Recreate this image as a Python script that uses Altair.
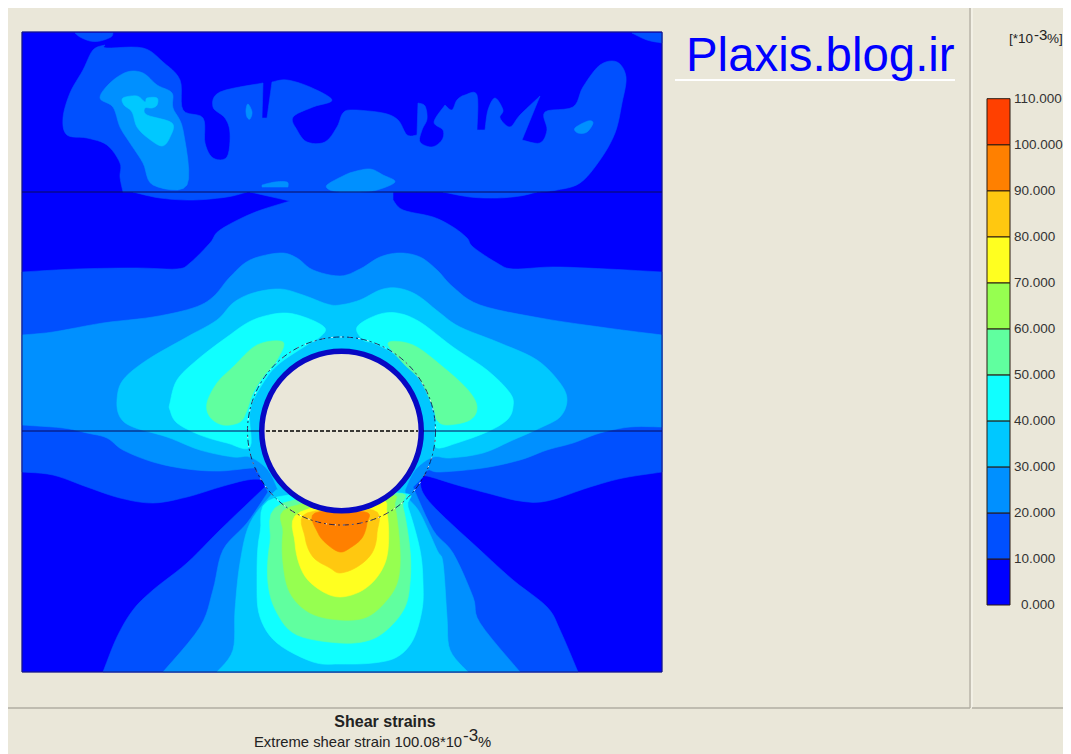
import altair as alt
import pandas as pd

W, H = 1055, 746
BG = "#EAE7D9"

# contour regions, drawn in this order: (band, outline points in picture units)
PLOT_AREA = [(22,32),(662,32),(662,672),(22,672)]
TOP_LEFT_CAP = [(75,33),(113,33),(111,37),(100,41),(90,41),(80,37)]
TOP_RIGHT_CAP = [(632,33),(662,33),(662,43),(647,40)]
UPPER_10 = [(123,192),(120,177),(120,163),(107,145),(87,138),(67,135),(63,118),(70,93),(83,70),(93,50),
    (105,45),(107,48),(143,48),(163,62),(180,80),(183,110),(203,118),(205,143),(213,158),(227,157),(230,133),(225,118),
    (213,107),(220,92),(263,83),(262,118),(267,118),(272,82),(287,80),(310,87),(332,100),(313,107),
    (293,117),(297,130),(307,142),(325,142),(337,127),(343,113),(353,110),(383,113),(398,120),(407,135),
    (417,135),(418,103),(425,106),(427,119),(422,130),(420,142),(432,147),(442,140),(443,130),(434,122),
    (445,105),(452,110),(457,100),(465,95),(477,95),(477,130),(485,130),(488,110),(495,98),(503,110),
    (500,118),(510,127),(520,115),(540,96),(522,140),(540,143),(547,130),(545,112),(573,107),(583,87),
    (600,65),(617,62),(626,77),(622,103),(615,133),(600,160),(580,183),(557,190),(540,192)]
SLIVER_LEFT = [(133,192),(160,198),(193,200),(227,197),(247,192)]
SLIVER_RIGHT = [(443,192),(470,197),(497,198),(520,196),(537,192)]
LOWER_10 = [(22,272),(77,269),(137,268),(177,269),(190,263),(210,243),(220,230),(253,213),(290,201),(250,192),
    (393,192),(393,200),(403,210),(433,217),(453,227),(467,238),(473,247),(497,263),(513,269),(553,267),(607,269),
    (662,272),(662,472),(623,478),(590,487),(547,501),(520,501),(487,493),(457,485),(427,476),(420,478),
    (423,493),(440,513),(480,550),(513,580),(547,607),(560,630),(578,672),(103,672),(117,637),(133,610),
    (153,590),(187,563),(220,530),(265,487),(262,480),(247,480),(220,487),(187,497),(153,503),(120,498),
    (87,487),(53,475),(22,472)]
BLOB_20 = [(100,98),(110,83),(127,72),(143,73),(157,85),(172,93),(173,108),(183,130),(187,185),(153,185),
    (143,163),(130,143),(120,127),(113,107)]
SPOT_A_20 = [(246,110),(248,104),(252,112),(250,119),(247,117)]
SPOT_B_20 = [(262,185),(275,182),(287,182),(288,187),(262,187)]
SPOT_C_20 = [(327,185),(343,176),(353,172),(370,169),(383,175),(395,182),(377,190),(360,192),(340,192),(330,190)]
SPOT_D_20 = [(575,128),(588,121),(593,123),(587,132),(578,133)]
BLOB_30 = [(123,98),(137,96),(145,102),(147,98),(157,98),(157,105),(152,108),(145,108),(147,115),(172,123),
    (170,137),(162,146),(148,138),(137,127),(132,112),(124,105)]
BAND_20 = [(22,335),(53,332),(103,323),(153,317),(193,308),(213,297),(230,277),(250,260),(280,253),(297,258),
    (313,270),(340,276),(360,269),(380,257),(400,253),(420,257),(437,270),(453,287),(480,305),(540,318),
    (607,328),(662,335),(662,427),(630,427),(600,433),(573,443),(547,450),(520,460),(483,468),(440,472),
    (428,470),(422,478),(413,487),(433,530),(453,553),(473,597),(480,623),(520,672),(163,672),(200,627),
    (213,590),(223,550),(247,523),(268,492),(258,472),(253,468),(220,471),(187,469),(153,462),(123,450),
    (107,438),(87,433),(63,428),(22,425)]
BAND_30 = [(117,400),(123,380),(147,360),(187,337),(217,320),(233,303),(253,293),(280,289),(303,295),(327,304),
    (340,305),(360,300),(380,290),(397,288),(417,295),(440,313),(460,327),(500,343),(537,360),(560,383),
    (567,400),(560,417),(540,428),(513,440),(483,453),(450,458),(433,457),(415,470),(405,490),(407,497),
    (420,513),(437,550),(443,563),(447,617),(450,650),(468,672),(217,672),(233,650),(235,610),(240,563),
    (250,523),(273,493),(278,490),(268,470),(250,457),(233,457),(200,450),(167,437),(133,427),(120,417)]
LOBE_L_40 = [(170,403),(177,380),(197,360),(227,337),(253,320),(283,313),(307,318),(325,328),(320,337),(307,345),
    (280,363),(265,380),(250,410),(250,447),(227,443),(200,435),(177,423),(170,410)]
LOBE_R_40 = [(357,327),(377,315),(397,313),(420,322),(453,347),(487,370),(510,393),(513,407),(507,420),(487,432),
    (457,443),(437,448),(435,437),(435,410),(427,387),(413,370),(393,353),(373,343),(363,340)]
PLUME_40 = [(277,497),(260,533),(257,583),(260,617),(277,643),(313,662),(340,664),(373,663),(397,657),(413,640),
    (422,610),(423,583),(420,550),(408,507),(400,493)]
LOBE_L_50 = [(207,403),(217,383),(233,367),(257,345),(283,342),(277,360),(263,377),(253,393),(247,410),(240,422),
    (223,425),(210,417)]
LOBE_R_50 = [(388,343),(413,345),(443,367),(468,390),(477,407),(470,420),(447,425),(437,420),(433,407),(420,380),(403,363)]
PLUME_50 = [(283,503),(270,543),(268,583),(277,613),(297,635),(340,643),(370,640),(390,627),(405,607),(410,583),
    (410,550),(403,507),(395,493)]
PLUME_60 = [(290,507),(283,533),(283,563),(290,593),(310,613),(340,620),(367,617),(387,600),(398,580),(400,550),
    (395,507),(387,495)]
PLUME_70 = [(300,512),(295,543),(303,573),(320,590),(340,597),(363,590),(380,573),(388,550),(387,513),(377,500)]
PLUME_80 = [(307,513),(305,537),(313,557),(330,568),(340,573),(357,567),(372,553),(377,533),(373,510)]
PLUME_90 = [(315,513),(318,533),(328,545),(340,552),(350,548),(362,538),(367,523),(365,512)]

# outline points that stay corners rather than being rounded
SHARP = {(418,103),(445,105),(540,96),(522,140),(272,82),(263,83),(262,118),(267,118),(290,201),(250,192),
    (393,192),(393,200),(123,192),(540,192),(420,478),(265,487),(105,45),(417,135),(477,130),(485,130),
    (413,487),(268,492),(405,490),(278,490),(133,192),(247,192),(443,192),(537,192),(340,192),(360,192),(262,187),(288,187),(262,185)}

REGIONS = [("0",PLOT_AREA),("10",TOP_LEFT_CAP),("10",TOP_RIGHT_CAP),("10",UPPER_10),("10",SLIVER_LEFT),
    ("10",SLIVER_RIGHT),("10",LOWER_10),("20",BLOB_20),("20",SPOT_A_20),("20",SPOT_B_20),("20",SPOT_C_20),
    ("20",SPOT_D_20),("30",BLOB_30),("20",BAND_20),("30",BAND_30),("40",LOBE_L_40),("40",LOBE_R_40),
    ("40",PLUME_40),("50",LOBE_L_50),("50",LOBE_R_50),("50",PLUME_50),("60",PLUME_60),("70",PLUME_70),
    ("80",PLUME_80),("90",PLUME_90)]

BAND_LOW = [0,10,20,30,40,50,60,70,80,90,100]
BAND_COLOURS = ["#0000FF","#0050FF","#0090FF","#00C8FF","#10FFFF","#60FF9F","#96FF50","#FFFF20","#FFC810","#FF8000","#FF4000"]
LEGEND_TICKS = [110,100,90,80,70,60,50,40,30,20,10]

def is_sharp(p):
    return p[0] in (22, 662) or p[1] in (32, 33, 672) or p in SHARP

def spline_run(run, closed=False):
    """Rounded path through traced points (Catmull-Rom), ending on run's last point."""
    n = len(run)
    out = []
    segs = n if closed else n - 1
    for i in range(segs):
        if closed:
            p0, p1, p2, p3 = run[i-1], run[i], run[(i+1) % n], run[(i+2) % n]
        else:
            p0, p1, p2, p3 = run[max(i-1, 0)], run[i], run[i+1], run[min(i+2, n-1)]
        for s in range(6):
            t = s / 6
            out.append(tuple(
                0.5 * (2*p1[c] + (p2[c]-p0[c])*t + (2*p0[c]-5*p1[c]+4*p2[c]-p3[c])*t*t
                       + (3*p1[c]-p0[c]-3*p2[c]+p3[c])*t*t*t) for c in (0, 1)))
    return out

def outline(pts):
    idx = [k for k, p in enumerate(pts) if is_sharp(p)]
    if not idx:
        return spline_run(pts, closed=True)
    rot = pts[idx[0]:] + pts[:idx[0]] + [pts[idx[0]]]
    out, run = [], [rot[0]]
    for p in rot[1:]:
        run.append(p)
        if is_sharp(p):
            out += spline_run(run)
            run = [p]
    return out

rows = []
for i, (band, pts) in enumerate(REGIONS):
    for j, (x, y) in enumerate(outline(pts)):
        rows.append(dict(region=f"r{i:02d}", seq=j, x=min(max(x, 22), 662), y=min(max(y, 32), 672), band=band))
contours = pd.DataFrame(rows)

X = alt.Scale(domain=[8, 8 + W], range=[0, W])
Y = alt.Scale(domain=[8, 8 + H], range=[0, H])
def xq(f="x"): return alt.X(f"{f}:Q", scale=X, axis=None)
def yq(f="y"): return alt.Y(f"{f}:Q", scale=Y, axis=None)

col = alt.Scale(domain=[str(b) for b in BAND_LOW], range=BAND_COLOURS)
contour_layer = alt.Chart(contours).mark_line(interpolate="linear-closed", strokeWidth=0.6).encode(
    x=xq(), y=yq(), order=alt.Order("seq:Q"), detail="region:N",
    fill=alt.Fill("band:N", scale=col, legend=None),
    stroke=alt.Stroke("band:N", scale=col, legend=None))

def rule(df, color, width=1, dash=None, opacity=1):
    kw = dict(color=color, strokeWidth=width, opacity=opacity)
    if dash: kw["strokeDash"] = dash
    m = alt.Chart(pd.DataFrame(df)).mark_rule(**kw)
    return m.encode(x=xq("x"), x2="x2:Q", y=yq("y"), y2="y2:Q")

frame = alt.Chart(pd.DataFrame([dict(x=22,x2=662,y=32,y2=672)])).mark_rect(
    fill=None, stroke="#1A1A6E", strokeWidth=1).encode(x=xq("x"), x2="x2:Q", y=yq("y"), y2="y2:Q")

CENTER_X, CENTER_Y = 341.5, 431
tunnel = pd.DataFrame([dict(x=CENTER_X, y=CENTER_Y)])
def circle(size, **kw):
    return alt.Chart(tunnel).mark_point(shape="circle", size=size, **kw).encode(x=xq(), y=yq())

RING_DIAMETER, OUTER_DIAMETER = 159.5, 188
ring = circle(RING_DIAMETER**2, fill=BG, fillOpacity=1, stroke="#0808C4", strokeWidth=5.5, opacity=1)
outer_light = circle(OUTER_DIAMETER**2, stroke="#F4F4F0", strokeWidth=1, strokeDash=[2,7], fill=None, opacity=1)
outer_dark = circle(OUTER_DIAMETER**2, stroke="#10104A", strokeWidth=1, strokeDash=[6,3,2,3], fill=None, opacity=0.85)

lines = [
    rule([dict(x=22,x2=662,y=192,y2=192)], "#0A0A5A", 1),
    rule([dict(x=22,x2=260,y=431,y2=431),dict(x=423,x2=662,y=431,y2=431)], "#0A0A5A", 1),
    rule([dict(x=266,x2=418,y=431,y2=431)], "#000000", 1.6, [4,2]),
]
separators = [
    rule([dict(x=970,x2=970,y=8,y2=708)], "#B8B5A8", 1.5),
    rule([dict(x=972,x2=972,y=8,y2=708)], "#FAF9F2", 1),
    rule([dict(x=8,x2=970,y=708,y2=708),dict(x=972,x2=1063,y=708,y2=708)], "#B0AEA2", 1.5),
    rule([dict(x=675,x2=955,y=80,y2=80)], "#FFFFFF", 2),
]

# legend with its own value scale
LEG = alt.Scale(domain=[0, 110], range=[605 - 8, 98.7 - 8])
legend_df = pd.DataFrame(dict(low=BAND_LOW, high=[b + 10 for b in BAND_LOW], band=[str(b) for b in BAND_LOW]))
legend_bar = alt.Chart(legend_df).mark_rect(stroke="#2A1A10", strokeWidth=1).encode(
    x=alt.value(987 - 8), x2=alt.value(1010 - 8),
    y=alt.Y("low:Q", scale=LEG, axis=None), y2="high:Q",
    fill=alt.Fill("band:N", scale=col, legend=None))
legend_text = alt.Chart(pd.DataFrame(dict(v=LEGEND_TICKS, t=[f"{v:.3f}" for v in LEGEND_TICKS]))).mark_text(
    align="left", baseline="middle", font="Liberation Sans", fontSize=13.5, color="#333333").encode(
    x=alt.value(1014 - 8), y=alt.Y("v:Q", scale=LEG, axis=None), text="t:N")
legend_zero = alt.Chart(pd.DataFrame(dict(v=[0], t=["0.000"]))).mark_text(
    align="left", baseline="middle", font="Liberation Sans", fontSize=13.5, color="#333333").encode(
    x=alt.value(1021 - 8), y=alt.Y("v:Q", scale=LEG, axis=None), text="t:N")

def label(text, x, y, size, font="Liberation Sans", weight="normal", color="#222222", align="left"):
    return alt.Chart(pd.DataFrame([dict(x=x, y=y, t=text)])).mark_text(
        align=align, baseline="alphabetic", font=font, fontSize=size, fontWeight=weight, color=color).encode(
        x=xq(), y=yq(), text="t:N")

texts = [
    label("Plaxis.blog.ir", 686, 71, 47.4, color="#0000FF"),
    label("[*10", 1009, 43, 13.5),
    label("-3", 1034, 40, 15),
    label("%]", 1047, 43, 13.5),
    label("Shear strains", 385, 727, 16, weight="bold", align="center"),
    label("Extreme shear strain 100.08*10", 254, 747, 14.8),
    label("-3", 463, 741, 17),
    label("%", 478, 747, 14.8),
]

chart = alt.layer(contour_layer, frame, ring, outer_light, outer_dark, *lines, *separators,
                  legend_bar, legend_text, legend_zero, *texts).resolve_scale(
    y="independent", x="independent", fill="shared").properties(
    width=W, height=H, background=BG, padding=0,
    autosize=alt.AutoSizeParams(type="none")).configure_view(stroke=None)

chart.save("out.html", embed_options={"renderer": "svg", "actions": False})
